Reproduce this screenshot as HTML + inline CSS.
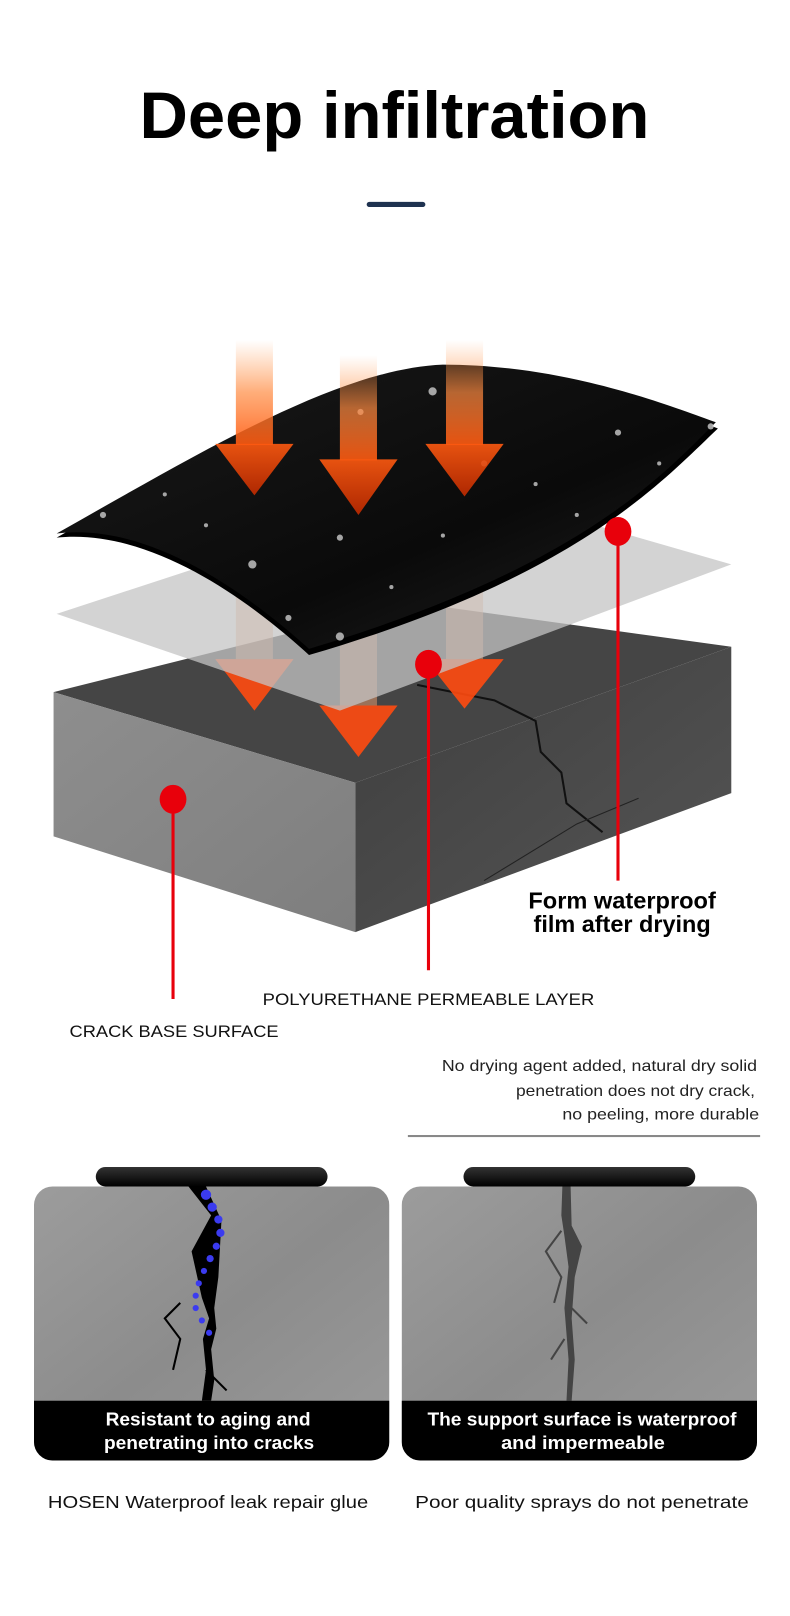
<!DOCTYPE html>
<html><head><meta charset="utf-8"><style>
html,body{margin:0;padding:0;background:#fff;}
svg{display:block;}
text{font-family:"Liberation Sans",sans-serif;}
</style></head><body>
<svg width="790" height="1616" viewBox="0 0 767 1569" preserveAspectRatio="none" xmlns="http://www.w3.org/2000/svg">
<defs>
<linearGradient id="shaft" x1="0" y1="0" x2="0" y2="1">
<stop offset="0" stop-color="#ff9a50" stop-opacity="0"/>
<stop offset="0.5" stop-color="#ff8a40" stop-opacity="0.7"/>
<stop offset="1" stop-color="#ff5a10" stop-opacity="0.9"/>
</linearGradient>
<linearGradient id="head" x1="0" y1="0" x2="0" y2="1">
<stop offset="0" stop-color="#ff5a10"/><stop offset="1" stop-color="#c02a00"/>
</linearGradient>
<linearGradient id="sheet" x1="0" y1="0" x2="1" y2="1">
<stop offset="0" stop-color="#1a1a1a"/><stop offset="0.6" stop-color="#0a0a0a"/><stop offset="1" stop-color="#222"/>
</linearGradient>
<linearGradient id="lface" x1="0" y1="0" x2="1" y2="1">
<stop offset="0" stop-color="#8e8e8e"/><stop offset="1" stop-color="#7e7e7e"/>
</linearGradient>
<linearGradient id="rface" x1="0" y1="0" x2="1" y2="1">
<stop offset="0" stop-color="#3e3e3e"/><stop offset="1" stop-color="#555"/>
</linearGradient>
<linearGradient id="conc" x1="0" y1="0" x2="1" y2="1">
<stop offset="0" stop-color="#9c9c9c"/><stop offset="0.5" stop-color="#8c8c8c"/><stop offset="1" stop-color="#9a9a9a"/>
</linearGradient>
<linearGradient id="pill" x1="0" y1="0" x2="0" y2="1">
<stop offset="0" stop-color="#333"/><stop offset="1" stop-color="#000"/>
</linearGradient>
<clipPath id="cl"><rect x="33" y="1152" width="345" height="266" rx="18"/></clipPath>
<clipPath id="cr"><rect x="390" y="1152" width="345" height="266" rx="18"/></clipPath>
</defs>

<text x="383" y="134" font-size="64" font-weight="bold" text-anchor="middle" textLength="495" lengthAdjust="spacingAndGlyphs" fill="#000">Deep infiltration</text>
<rect x="356" y="196" width="57" height="5" rx="2.5" fill="#1e3250"/>

<!-- block -->
<polygon points="52,672 400,585 710,628 345,760" fill="#454545"/>
<polygon points="52,672 345,760 345,905 52,812" fill="url(#lface)"/>
<polygon points="345,760 710,628 710,770 345,905" fill="url(#rface)"/>
<path d="M405,665 L440,672 L480,680 L520,700 L525,730 L545,750 L550,780 L585,808" stroke="#111" stroke-width="2" fill="none"/>
<path d="M470,855 L560,800 L620,775" stroke="#222" stroke-width="1" fill="none"/>

<!-- lower arrows -->
<rect x="229" y="560" width="36" height="80" fill="#f0a070" opacity="0.5"/>
<rect x="330" y="560" width="36" height="125" fill="#f0a070" opacity="0.5"/>
<rect x="433" y="560" width="36" height="80" fill="#f0a070" opacity="0.5"/>
<polygon points="209,640 285,640 247,690" fill="#ff4a10" opacity="0.9"/>
<polygon points="310,685 386,685 348,735" fill="#ff4a10" opacity="0.9"/>
<polygon points="413,640 489,640 451,688" fill="#ff4a10" opacity="0.9"/>

<!-- gray plane -->
<polygon points="55,596 440,470 710,548 330,690" fill="#c4c4c4" opacity="0.75"/>

<!-- black sheet -->
<path d="M55,522 C200,440 330,362 430,358 C550,358 650,398 697,416 C640,470 560,560 300,636 C250,590 150,512 55,522 Z" fill="#000"/>
<path d="M55,518 C200,436 330,358 430,354 C550,354 650,394 695,410 C640,465 560,552 300,630 C250,585 150,506 55,518 Z" fill="url(#sheet)"/>
<g fill="#ccc" opacity="0.8">
<circle cx="100" cy="500" r="3"/><circle cx="160" cy="480" r="2"/><circle cx="245" cy="548" r="4"/><circle cx="330" cy="522" r="3"/><circle cx="420" cy="380" r="4"/><circle cx="470" cy="450" r="3"/><circle cx="520" cy="470" r="2"/><circle cx="600" cy="420" r="3"/><circle cx="640" cy="450" r="2"/><circle cx="280" cy="600" r="3"/><circle cx="380" cy="570" r="2"/><circle cx="200" cy="510" r="2"/><circle cx="560" cy="500" r="2"/><circle cx="350" cy="400" r="3"/><circle cx="430" cy="520" r="2"/><circle cx="690" cy="414" r="3"/><circle cx="330" cy="618" r="4"/>
</g>

<!-- upper arrows -->
<rect x="229" y="330" width="36" height="102" fill="url(#shaft)"/>
<rect x="330" y="345" width="36" height="102" fill="url(#shaft)"/>
<rect x="433" y="330" width="36" height="102" fill="url(#shaft)"/>
<polygon points="209,431 285,431 247,481" fill="url(#head)" opacity="0.9"/>
<polygon points="310,446 386,446 348,500" fill="url(#head)" opacity="0.9"/>
<polygon points="413,431 489,431 451,482" fill="url(#head)" opacity="0.9"/>

<!-- pointers -->
<g fill="#e8000b" stroke="#e8000b">
<line x1="600" y1="516" x2="600" y2="855" stroke-width="3"/>
<ellipse cx="600" cy="516" rx="13" ry="14" stroke="none"/>
<line x1="416" y1="645" x2="416" y2="942" stroke-width="3"/>
<ellipse cx="416" cy="645" rx="13" ry="14" stroke="none"/>
<line x1="168" y1="776" x2="168" y2="970" stroke-width="3"/>
<ellipse cx="168" cy="776" rx="13" ry="14" stroke="none"/>
</g>

<text x="604" y="882" font-size="22" font-weight="600" text-anchor="middle" textLength="182" lengthAdjust="spacingAndGlyphs" fill="#000">Form waterproof</text>
<text x="604" y="905" font-size="22" font-weight="600" text-anchor="middle" textLength="172" lengthAdjust="spacingAndGlyphs" fill="#000">film after drying</text>
<text x="416" y="976" font-size="16" text-anchor="middle" textLength="322" lengthAdjust="spacingAndGlyphs" fill="#111">POLYURETHANE PERMEABLE LAYER</text>
<text x="169" y="1007" font-size="16" text-anchor="middle" textLength="203" lengthAdjust="spacingAndGlyphs" fill="#111">CRACK BASE SURFACE</text>

<g font-size="15.5" text-anchor="end" fill="#222">
<text x="735" y="1040" textLength="306" lengthAdjust="spacingAndGlyphs">No drying agent added, natural dry solid</text>
<text x="733" y="1064" textLength="232" lengthAdjust="spacingAndGlyphs">penetration does not dry crack,</text>
<text x="737" y="1087" textLength="191" lengthAdjust="spacingAndGlyphs">no peeling, more durable</text>
</g>
<rect x="396" y="1102" width="342" height="2" fill="#888"/>

<!-- left panel -->
<g clip-path="url(#cl)">
<rect x="33" y="1152" width="345" height="266" fill="url(#conc)"/>
<path d="M183,1152 L200,1152 L215,1185 L212,1240 L208,1270 L210,1290 L205,1310 L208,1340 L205,1360 L196,1360 L200,1330 L197,1300 L203,1280 L196,1260 L186,1215 L205,1180 Z" fill="#000"/>
<path d="M175,1265 L160,1280 L175,1300 L168,1330 M200,1330 L220,1350" stroke="#000" stroke-width="2" fill="none"/>
<g fill="#3b3bf0">
<circle cx="200" cy="1160" r="5"/><circle cx="206" cy="1172" r="4.5"/><circle cx="212" cy="1184" r="4"/><circle cx="214" cy="1197" r="4"/><circle cx="210" cy="1210" r="3.5"/><circle cx="204" cy="1222" r="3.5"/><circle cx="198" cy="1234" r="3"/><circle cx="193" cy="1246" r="3"/><circle cx="190" cy="1258" r="3"/><circle cx="190" cy="1270" r="3"/><circle cx="196" cy="1282" r="3"/><circle cx="203" cy="1294" r="3"/>
</g>
<rect x="33" y="1360" width="345" height="60" fill="#000"/>
</g>
<rect x="93" y="1133" width="225" height="19" rx="9.5" fill="url(#pill)"/>
<text x="202" y="1384" font-size="18" font-weight="bold" text-anchor="middle" textLength="199" lengthAdjust="spacingAndGlyphs" fill="#fff">Resistant to aging and</text>
<text x="203" y="1407" font-size="18" font-weight="bold" text-anchor="middle" textLength="204" lengthAdjust="spacingAndGlyphs" fill="#fff">penetrating into cracks</text>

<!-- right panel -->
<g clip-path="url(#cr)">
<rect x="390" y="1152" width="345" height="266" fill="url(#conc)"/>
<path d="M546,1152 L554,1152 L555,1190 L565,1210 L558,1240 L555,1280 L558,1320 L555,1360 L550,1360 L552,1320 L548,1270 L552,1230 L548,1200 L545,1180 Z" fill="#444"/>
<path d="M545,1195 L530,1215 L545,1240 L538,1265 M555,1270 L570,1285 M548,1300 L535,1320" stroke="#444" stroke-width="2" fill="none"/>
<rect x="390" y="1360" width="345" height="60" fill="#000"/>
</g>
<rect x="450" y="1133" width="225" height="19" rx="9.5" fill="url(#pill)"/>
<text x="565" y="1384" font-size="18" font-weight="bold" text-anchor="middle" textLength="300" lengthAdjust="spacingAndGlyphs" fill="#fff">The support surface is waterproof</text>
<text x="566" y="1407" font-size="18" font-weight="bold" text-anchor="middle" textLength="159" lengthAdjust="spacingAndGlyphs" fill="#fff">and impermeable</text>

<text x="202" y="1464" font-size="17" text-anchor="middle" textLength="311" lengthAdjust="spacingAndGlyphs" fill="#111">HOSEN Waterproof leak repair glue</text>
<text x="565" y="1464" font-size="17" text-anchor="middle" textLength="324" lengthAdjust="spacingAndGlyphs" fill="#111">Poor quality sprays do not penetrate</text>
</svg>
</body></html>
